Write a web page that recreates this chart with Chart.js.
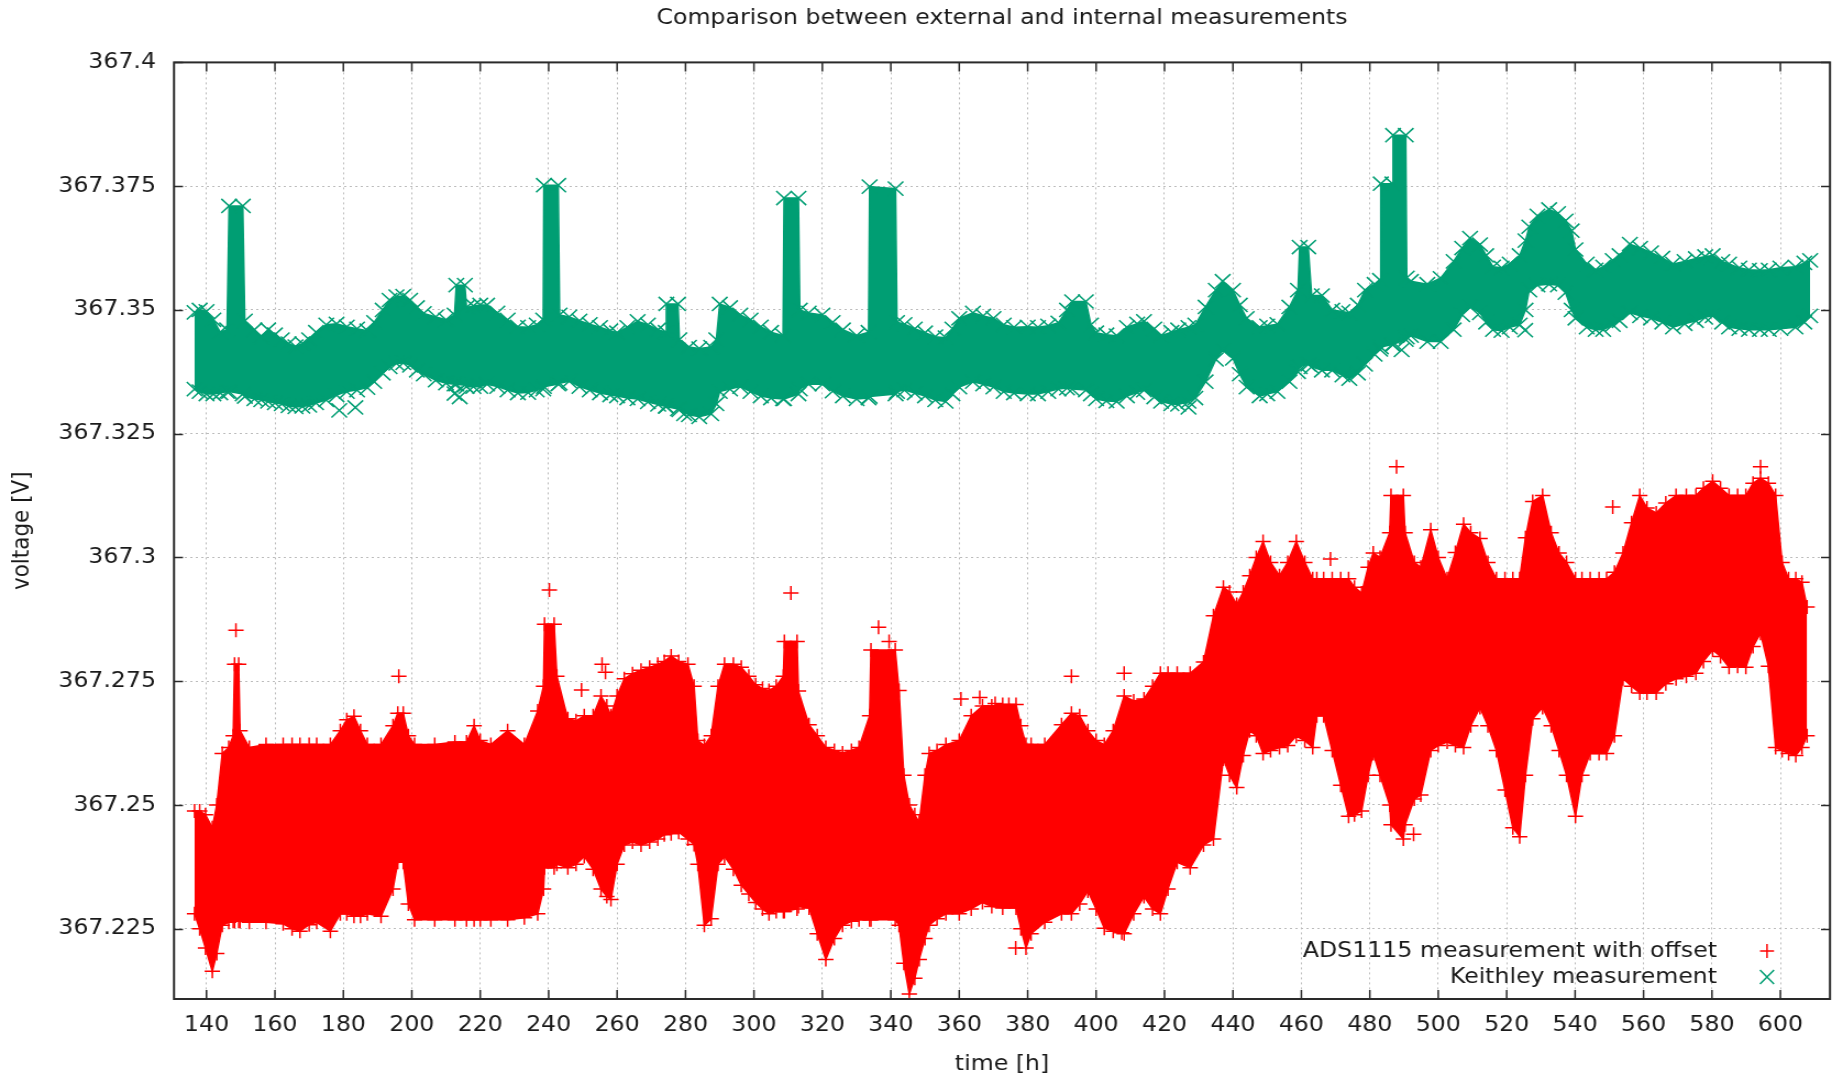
<!DOCTYPE html>
<html>
<head>
<meta charset="utf-8">
<title>Comparison between external and internal measurements</title>
<script src="https://cdn.jsdelivr.net/npm/chart.js@4.4.1/dist/chart.umd.min.js"></script>
<style>
  html, body { margin: 0; padding: 0; background: #fff; overflow: hidden; }
  /* the plot is drawn on a narrower canvas and widened, like the wide-set gnuplot output */
  #wrap { width: 1676px; height: 1078px; transform: scaleX(1.09964); transform-origin: 0 0; }
</style>
</head>
<body>
<div id="wrap"><canvas id="voltageChart"></canvas></div>
<script>
const STRETCH = 1843 / 1676;

const titleText = 'Comparison between external and internal measurements';
const seriesNames = ['ADS1115 measurement with offset', 'Keithley measurement'];

const xTicks = [140, 160, 180, 200, 220, 240, 260, 280, 300, 320, 340, 360, 380, 400, 420, 440, 460, 480, 500, 520, 540, 560, 580, 600];
const yTicks = [367.225, 367.25, 367.275, 367.3, 367.325, 367.35, 367.375, 367.4];

// Keithley: upper and lower edge of the scatter band per time [h]
const kHours = [136.5, 138, 140, 142, 144, 146, 146.6, 150.6, 151.2, 154, 156, 158, 160, 162, 164, 166, 168, 170, 172, 175,
  178, 181, 184, 187, 189, 191.5, 193.5, 195.5, 197.5, 199.5, 201.5, 203.5, 207, 210, 212.5, 213, 215.5, 216, 218, 220,
  222, 225, 228, 231, 234, 236.5, 238.4, 238.6, 242.8, 243.2, 246, 249, 252, 255, 258, 260, 263, 266, 269, 272,
  274.2, 274.4, 277.8, 278.2, 281, 284, 287.5, 289, 290, 293, 296, 299, 302, 305, 308.5, 308.8, 313, 313.4, 316, 320,
  323, 326, 330, 333.5, 333.8, 341.4, 341.8, 344, 347, 350, 353, 356, 358, 360, 364, 367, 370, 373, 376, 380,
  383, 386, 389, 391.5, 393, 397, 398.5, 400, 403, 406, 409, 412, 414, 417, 419, 422, 424, 427, 429, 432,
  435, 437, 440, 442, 444, 447.8, 450, 453, 456.5, 459, 459.5, 462, 463, 466, 469, 472, 474, 476.5, 478.6, 481.4,
  483, 483.2, 486.6, 486.8, 490.5, 490.8, 492, 496.8, 500.7, 504.5, 507, 509.3, 512.2, 514, 516, 518.5, 520.9, 523.8, 525.5, 526.6,
  529, 532.4, 535, 537.2, 539, 540.1, 543.4, 546, 548.2, 551, 553, 556, 559, 562.2, 565.5, 568.6, 572, 575.3, 578, 580.2,
  583, 585, 588, 590.8, 594, 596.6, 600, 604.4, 607, 608.7];
const kHigh = [367.3495, 367.3500, 367.3497, 367.3480, 367.3455, 367.3460, 367.3710, 367.3710, 367.3478, 367.3460, 367.3445, 367.3460, 367.3450, 367.3440, 367.3432, 367.3426, 367.3432, 367.3440, 367.3455, 367.3470,
  367.3472, 367.3466, 367.3462, 367.3458, 367.3475, 367.3500, 367.3520, 367.3527, 367.3528, 367.3520, 367.3505, 367.3493, 367.3486, 367.3480, 367.3490, 367.3550, 367.3550, 367.3505, 367.3508, 367.3510,
  367.3510, 367.3494, 367.3480, 367.3466, 367.3465, 367.3470, 367.3480, 367.3752, 367.3752, 367.3490, 367.3486, 367.3478, 367.3471, 367.3465, 367.3458, 367.3454, 367.3465, 367.3477, 367.3470, 367.3460,
  367.3455, 367.3512, 367.3512, 367.3440, 367.3425, 367.3422, 367.3425, 367.3440, 367.3512, 367.3505, 367.3490, 367.3480, 367.3466, 367.3455, 367.3448, 367.3726, 367.3726, 367.3500, 367.3494, 367.3490,
  367.3475, 367.3460, 367.3448, 367.3455, 367.3749, 367.3745, 367.3475, 367.3471, 367.3462, 367.3454, 367.3446, 367.3444, 367.3462, 367.3483, 367.3494, 367.3488, 367.3483, 367.3470, 367.3465, 367.3466,
  367.3465, 367.3468, 367.3474, 367.3500, 367.3517, 367.3517, 367.3470, 367.3454, 367.3450, 367.3448, 367.3465, 367.3472, 367.3477, 367.3462, 367.3448, 367.3455, 367.3460, 367.3465, 367.3470, 367.3506,
  367.3540, 367.3558, 367.3540, 367.3510, 367.3483, 367.3465, 367.3468, 367.3471, 367.3506, 367.3540, 367.3627, 367.3627, 367.3529, 367.3529, 367.3500, 367.3497, 367.3494, 367.3510, 367.3540, 367.3552,
  367.3560, 367.3755, 367.3755, 367.3853, 367.3853, 367.3565, 367.3558, 367.3552, 367.3564, 367.3598, 367.3625, 367.3645, 367.3632, 367.3610, 367.3587, 367.3585, 367.3593, 367.3610, 367.3640, 367.3668,
  367.3690, 367.3703, 367.3695, 367.3680, 367.3660, 367.3622, 367.3593, 367.3581, 367.3587, 367.3600, 367.3610, 367.3633, 367.3625, 367.3616, 367.3605, 367.3593, 367.3598, 367.3604, 367.3608, 367.3610,
  367.3598, 367.3593, 367.3585, 367.3581, 367.3580, 367.3581, 367.3585, 367.3587, 367.3595, 367.3600];
const kLow = [367.3340, 367.3335, 367.3330, 367.3330, 367.3332, 367.3335, 367.3335, 367.3330, 367.3325, 367.3320, 367.3318, 367.3315, 367.3312, 367.3310, 367.3306, 367.3304, 367.3305, 367.3307, 367.3312, 367.3318,
  367.3328, 367.3335, 367.3338, 367.3343, 367.3355, 367.3372, 367.3385, 367.3392, 367.3393, 367.3388, 367.3378, 367.3370, 367.3358, 367.3352, 367.3350, 367.3350, 367.3348, 367.3345, 367.3345, 367.3345,
  367.3350, 367.3345, 367.3338, 367.3332, 367.3333, 367.3338, 367.3340, 367.3345, 367.3350, 367.3352, 367.3356, 367.3345, 367.3338, 367.3332, 367.3328, 367.3326, 367.3322, 367.3320, 367.3314, 367.3309,
  367.3305, 367.3305, 367.3300, 367.3298, 367.3288, 367.3284, 367.3290, 367.3310, 367.3335, 367.3340, 367.3345, 367.3335, 367.3326, 367.3322, 367.3320, 367.3320, 367.3330, 367.3340, 367.3350, 367.3350,
  367.3336, 367.3326, 367.3320, 367.3322, 367.3325, 367.3330, 367.3335, 367.3338, 367.3332, 367.3326, 367.3318, 367.3315, 367.3330, 367.3344, 367.3355, 367.3350, 367.3344, 367.3335, 367.3332, 367.3330,
  367.3330, 367.3335, 367.3340, 367.3342, 367.3340, 367.3338, 367.3330, 367.3320, 367.3316, 367.3315, 367.3326, 367.3333, 367.3338, 367.3324, 367.3315, 367.3310, 367.3309, 367.3315, 367.3322, 367.3355,
  367.3400, 367.3419, 367.3402, 367.3370, 367.3344, 367.3326, 367.3330, 367.3335, 367.3355, 367.3375, 367.3385, 367.3390, 367.3385, 367.3378, 367.3378, 367.3368, 367.3361, 367.3372, 367.3390, 367.3410,
  367.3420, 367.3425, 367.3430, 367.3430, 367.3440, 367.3445, 367.3448, 367.3436, 367.3436, 367.3460, 367.3490, 367.3506, 367.3494, 367.3475, 367.3460, 367.3458, 367.3465, 367.3470, 367.3500, 367.3540,
  367.3550, 367.3552, 367.3550, 367.3535, 367.3500, 367.3483, 367.3465, 367.3460, 367.3460, 367.3470, 367.3478, 367.3494, 367.3488, 367.3483, 367.3475, 367.3465, 367.3472, 367.3478, 367.3485, 367.3488,
  367.3475, 367.3465, 367.3462, 367.3460, 367.3460, 367.3460, 367.3462, 367.3465, 367.3475, 367.3488];
const kOutHours = [178.8, 183.5, 212.5, 214, 279.6, 427, 489.3, 525.4];
const kOutValues = [367.3297, 367.3303, 367.3331, 367.3324, 367.3290, 367.3303, 367.3419, 367.3459];

// ADS1115 (with offset): upper and lower edge of the scatter band per time [h]
const adsHours = [136.5, 138, 139.7, 141.7, 143, 144.6, 146.5, 147.8, 148.2, 149.4, 149.8, 152.5, 157.4, 162.4, 165, 167.3, 170, 172.2, 176.2, 179.1,
  181, 183.1, 185, 187, 191, 194.5, 195.9, 197.5, 199, 200.8, 206.7, 212.6, 216, 218.2, 220, 223.1, 228, 232.9, 236.8, 238.5,
  238.8, 241.6, 242.4, 245.6, 248, 250.4, 253, 255.3, 257, 258.2, 260, 262.1, 264.5, 267, 269.5, 271.9, 273.8, 275.8, 278, 280.7,
  282.5, 283.6, 285.5, 287.5, 289.5, 291.4, 294, 296.3, 298.5, 300.5, 302.5, 304.4, 306.5, 308.6, 308.9, 312.6, 313, 316.1, 318.5, 321,
  323.5, 325.9, 328.5, 330.7, 333.8, 334.2, 341.3, 342.4, 343.8, 345.4, 347, 348.3, 350, 351.2, 353.5, 356.1, 360, 363.5, 366.8, 369.5,
  372.7, 376.6, 378, 379.5, 381, 385, 389.9, 392.8, 395.2, 397.6, 400, 402.4, 405, 408.2, 411, 414, 416.5, 418.8, 421, 423.7,
  427.5, 431.4, 434.3, 437.2, 439, 441.1, 443, 444.9, 446.8, 448.8, 451, 453.6, 456, 458.5, 461, 463.3, 464.5, 466.5, 469, 471.5,
  473.8, 475.5, 477.6, 479.5, 481, 483, 485.8, 486.2, 489.8, 490.3, 493, 494.9, 497.8, 500, 502.6, 505, 507.4, 509.5, 512.2, 514.5,
  517, 519.5, 521.8, 523.8, 525.5, 527.6, 530.5, 533, 535.3, 537.5, 540.1, 542, 544.4, 547, 549.2, 551.5, 554, 556.5, 558.9, 561,
  563.7, 566.5, 569.5, 572.5, 575.3, 577.5, 580.2, 582.5, 585, 587.5, 589.9, 592, 594.2, 596.5, 598.6, 600.5, 602.4, 604.5, 606.3, 607.8];
const adsHigh = [367.2488, 367.2488, 367.2480, 367.2454, 367.2500, 367.2604, 367.2616, 367.2640, 367.2784, 367.2784, 367.2650, 367.2616, 367.2622, 367.2622, 367.2622, 367.2622, 367.2622, 367.2622, 367.2622, 367.2650,
  367.2672, 367.2679, 367.2650, 367.2622, 367.2622, 367.2660, 367.2685, 367.2685, 367.2640, 367.2622, 367.2622, 367.2627, 367.2627, 367.2660, 367.2630, 367.2622, 367.2650, 367.2622, 367.2690, 367.2740,
  367.2865, 367.2865, 367.2760, 367.2674, 367.2670, 367.2680, 367.2680, 367.2720, 367.2700, 367.2680, 367.2720, 367.2755, 367.2765, 367.2772, 367.2778, 367.2784, 367.2790, 367.2801, 367.2790, 367.2784,
  367.2740, 367.2630, 367.2620, 367.2640, 367.2740, 367.2784, 367.2784, 367.2778, 367.2760, 367.2743, 367.2735, 367.2731, 367.2740, 367.2760, 367.2830, 367.2830, 367.2730, 367.2662, 367.2640, 367.2616,
  367.2610, 367.2605, 367.2610, 367.2616, 367.2680, 367.2813, 367.2813, 367.2731, 367.2560, 367.2500, 367.2480, 367.2465, 367.2560, 367.2604, 367.2610, 367.2622, 367.2630, 367.2680, 367.2700, 367.2700,
  367.2703, 367.2703, 367.2660, 367.2622, 367.2622, 367.2622, 367.2662, 367.2685, 367.2680, 367.2650, 367.2630, 367.2622, 367.2650, 367.2720, 367.2710, 367.2714, 367.2740, 367.2766, 367.2766, 367.2766,
  367.2766, 367.2789, 367.2882, 367.2940, 367.2930, 367.2905, 367.2930, 367.2963, 367.3000, 367.3032, 367.2990, 367.2963, 367.2990, 367.3032, 367.2990, 367.2957, 367.2957, 367.2957, 367.2957, 367.2957,
  367.2957, 367.2940, 367.2928, 367.2980, 367.3009, 367.3000, 367.3050, 367.3125, 367.3125, 367.3050, 367.2990, 367.2980, 367.3056, 367.3000, 367.2957, 367.3010, 367.3067, 367.3050, 367.3038, 367.2990,
  367.2957, 367.2957, 367.2957, 367.2957, 367.3040, 367.3113, 367.3125, 367.3050, 367.3009, 367.2990, 367.2957, 367.2957, 367.2957, 367.2957, 367.2957, 367.2970, 367.3009, 367.3070, 367.3125, 367.3100,
  367.3090, 367.3110, 367.3125, 367.3125, 367.3125, 367.3140, 367.3154, 367.3140, 367.3125, 367.3125, 367.3125, 367.3150, 367.3160, 367.3150, 367.3125, 367.2990, 367.2957, 367.2957, 367.2950, 367.2900];
const adsLow = [367.2280, 367.2250, 367.2211, 367.2164, 367.2200, 367.2257, 367.2263, 367.2265, 367.2265, 367.2265, 367.2265, 367.2263, 367.2263, 367.2260, 367.2250, 367.2245, 367.2258, 367.2263, 367.2245, 367.2280,
  367.2280, 367.2275, 367.2275, 367.2280, 367.2275, 367.2330, 367.2384, 367.2384, 367.2300, 367.2268, 367.2268, 367.2268, 367.2268, 367.2268, 367.2268, 367.2268, 367.2268, 367.2272, 367.2280, 367.2330,
  367.2373, 367.2373, 367.2380, 367.2373, 367.2380, 367.2396, 367.2370, 367.2330, 367.2315, 367.2309, 367.2380, 367.2419, 367.2425, 367.2419, 367.2425, 367.2431, 367.2440, 367.2442, 367.2445, 367.2431,
  367.2420, 367.2380, 367.2257, 367.2270, 367.2380, 367.2396, 367.2370, 367.2338, 367.2320, 367.2303, 367.2290, 367.2280, 367.2285, 367.2285, 367.2285, 367.2290, 367.2295, 367.2292, 367.2240, 367.2188,
  367.2230, 367.2257, 367.2265, 367.2268, 367.2268, 367.2268, 367.2268, 367.2257, 367.2180, 367.2118, 367.2150, 367.2188, 367.2230, 367.2257, 367.2270, 367.2280, 367.2280, 367.2290, 367.2303, 367.2295,
  367.2292, 367.2292, 367.2250, 367.2211, 367.2240, 367.2263, 367.2280, 367.2280, 367.2300, 367.2326, 367.2290, 367.2251, 367.2245, 367.2240, 367.2280, 367.2315, 367.2290, 367.2280, 367.2330, 367.2384,
  367.2373, 367.2419, 367.2431, 367.2593, 367.2560, 367.2535, 367.2600, 367.2650, 367.2640, 367.2604, 367.2610, 367.2616, 367.2620, 367.2639, 367.2630, 367.2616, 367.2680, 367.2680, 367.2610, 367.2540,
  367.2477, 367.2480, 367.2488, 367.2560, 367.2604, 367.2560, 367.2500, 367.2460, 367.2431, 367.2460, 367.2512, 367.2520, 367.2610, 367.2620, 367.2627, 367.2620, 367.2616, 367.2660, 367.2697, 367.2660,
  367.2610, 367.2530, 367.2454, 367.2436, 367.2560, 367.2674, 367.2697, 367.2660, 367.2610, 367.2560, 367.2477, 367.2560, 367.2604, 367.2604, 367.2604, 367.2640, 367.2755, 367.2740, 367.2726, 367.2726,
  367.2726, 367.2745, 367.2755, 367.2760, 367.2766, 367.2790, 367.2813, 367.2800, 367.2778, 367.2780, 367.2778, 367.2820, 367.2847, 367.2780, 367.2616, 367.2610, 367.2604, 367.2600, 367.2616, 367.2640];
const adsOutHours = [148.6, 196.2, 240.2, 249.6, 255.6, 256.6, 310.8, 336.4, 339.5, 360.5, 366, 370.5, 374.5, 376.5, 392.8, 407.5, 408.2, 468.5, 487.8, 492.8, 551, 594.2];
const adsOutValues = [367.2853, 367.2760, 367.2934, 367.2732, 367.2784, 367.2768, 367.2928, 367.2859, 367.2830, 367.2714, 367.2717, 367.2705, 367.2703, 367.2211, 367.2760, 367.2242, 367.2766, 367.2997, 367.3183, 367.2441, 367.3102, 367.3183];

const RED = '#ff0000';
const GREEN = '#009e73';
const INK = '#1a1a1a';
const FONT_SIZE = 21.5;

Chart.defaults.font.family = "'DejaVu Sans', sans-serif";
Chart.defaults.font.size = FONT_SIZE;
Chart.defaults.color = INK;

const toPoints = (hours, values) => hours.map((h, i) => ({ x: h, y: values[i] }));

function bandEdge(label, hours, values, color, style, radius, fill) {
    return {
        label: label,
        data: toPoints(hours, values),
        borderColor: color,
        backgroundColor: color,
        borderWidth: 1.5,
        tension: 0,
        fill: fill,
        pointStyle: style,
        pointRadius: radius,
        pointBorderWidth: 1.5,
        pointBorderColor: color,
        pointBackgroundColor: color
    };
}

function scatter(label, hours, values, color, style, radius) {
    return {
        label: label,
        data: toPoints(hours, values),
        showLine: false,
        fill: false,
        pointStyle: style,
        pointRadius: radius,
        pointBorderWidth: 1.5,
        pointBorderColor: color,
        pointBackgroundColor: color
    };
}

// Frame with inward ticks on all four sides, plus the key in the lower right corner
const gnuplotFrame = {
    id: 'gnuplotFrame',
    afterDatasetsDraw(chart) {
        const { ctx, chartArea: { left, right, top, bottom }, scales: { x, y } } = chart;
        const tickW = 9 / STRETCH;
        ctx.save();
        ctx.strokeStyle = '#2a2a2a';
        ctx.lineWidth = 1.5;
        ctx.beginPath();
        xTicks.forEach(v => {
            const px = x.getPixelForValue(v);
            ctx.moveTo(px, bottom); ctx.lineTo(px, bottom - 9);
            ctx.moveTo(px, top); ctx.lineTo(px, top + 9);
        });
        yTicks.forEach(v => {
            const py = Math.round(y.getPixelForValue(v)) + 0.5;
            ctx.moveTo(left, py); ctx.lineTo(left + tickW, py);
            ctx.moveTo(right, py); ctx.lineTo(right - tickW, py);
        });
        ctx.stroke();
        ctx.lineWidth = 2;
        ctx.strokeRect(left, top, right - left, bottom - top);

        const keys = [
            { text: seriesNames[0], color: RED, rot: false },
            { text: seriesNames[1], color: GREEN, rot: true }
        ];
        ctx.font = FONT_SIZE + "px 'DejaVu Sans', sans-serif";
        ctx.textAlign = 'right';
        ctx.textBaseline = 'middle';
        keys.forEach((k, i) => {
            const ty = bottom - 48 + i * 26;
            ctx.fillStyle = INK;
            ctx.fillText(k.text, right - 113 / STRETCH, ty);
            const mx = right - 63 / STRETCH;
            const r = 7;
            const rx = r / STRETCH;
            ctx.strokeStyle = k.color;
            ctx.lineWidth = 1.5;
            ctx.beginPath();
            if (k.rot) {
                ctx.moveTo(mx - rx, ty - r); ctx.lineTo(mx + rx, ty + r);
                ctx.moveTo(mx - rx, ty + r); ctx.lineTo(mx + rx, ty - r);
            } else {
                ctx.moveTo(mx - rx, ty); ctx.lineTo(mx + rx, ty);
                ctx.moveTo(mx, ty - r); ctx.lineTo(mx, ty + r);
            }
            ctx.stroke();
        });
        ctx.restore();
    }
};

const ctx = document.getElementById('voltageChart').getContext('2d');

new Chart(ctx, {
    type: 'line',
    data: {
        datasets: [
            bandEdge('ADS1115 lower edge', adsHours, adsLow, RED, 'cross', 7, false),
            bandEdge(seriesNames[0], adsHours, adsHigh, RED, 'cross', 7, '-1'),
            scatter('ADS1115 single readings', adsOutHours, adsOutValues, RED, 'cross', 7),
            bandEdge('Keithley lower edge', kHours, kLow, GREEN, 'crossRot', 10, false),
            bandEdge(seriesNames[1], kHours, kHigh, GREEN, 'crossRot', 10, '-1'),
            scatter('Keithley single readings', kOutHours, kOutValues, GREEN, 'crossRot', 10)
        ]
    },
    options: {
        responsive: true,
        maintainAspectRatio: false,
        animation: false,
        events: [],
        layout: {
            padding: { left: 0, right: 13 / STRETCH, top: 0, bottom: 0 }
        },
        plugins: {
            legend: { display: false },
            tooltip: { enabled: false },
            title: {
                display: true,
                text: titleText,
                fullSize: false,
                color: INK,
                font: { size: FONT_SIZE, weight: 'normal' },
                padding: { top: 6, bottom: 30.6 }
            }
        },
        scales: {
            x: {
                type: 'linear',
                min: 130.5,
                max: 614.5,
                afterBuildTicks: axis => { axis.ticks = xTicks.map(v => ({ value: v })); },
                afterFit: axis => { axis.height = 79; },
                grid: { color: '#bcbcbc', lineWidth: 1, drawTicks: false },
                border: { display: false, dash: [2, 3] },
                ticks: { padding: 14, maxRotation: 0, autoSkip: false },
                title: {
                    display: true,
                    text: 'time [h]',
                    padding: { top: 0, bottom: 1 }
                }
            },
            y: {
                type: 'linear',
                min: 367.2108,
                max: 367.4,
                afterBuildTicks: axis => { axis.ticks = yTicks.map(v => ({ value: v })); },
                afterFit: axis => { axis.width = 174 / STRETCH; },
                grid: { color: '#bcbcbc', lineWidth: 1, drawTicks: false },
                border: { display: false, dash: [2, 3] },
                ticks: {
                    padding: 18 / STRETCH,
                    autoSkip: false,
                    callback: value => String(+value.toFixed(3))
                },
                title: {
                    display: true,
                    text: 'voltage [V]',
                    padding: { top: 8, bottom: 0 }
                }
            }
        }
    },
    plugins: [gnuplotFrame]
});
</script>
</body>
</html>
